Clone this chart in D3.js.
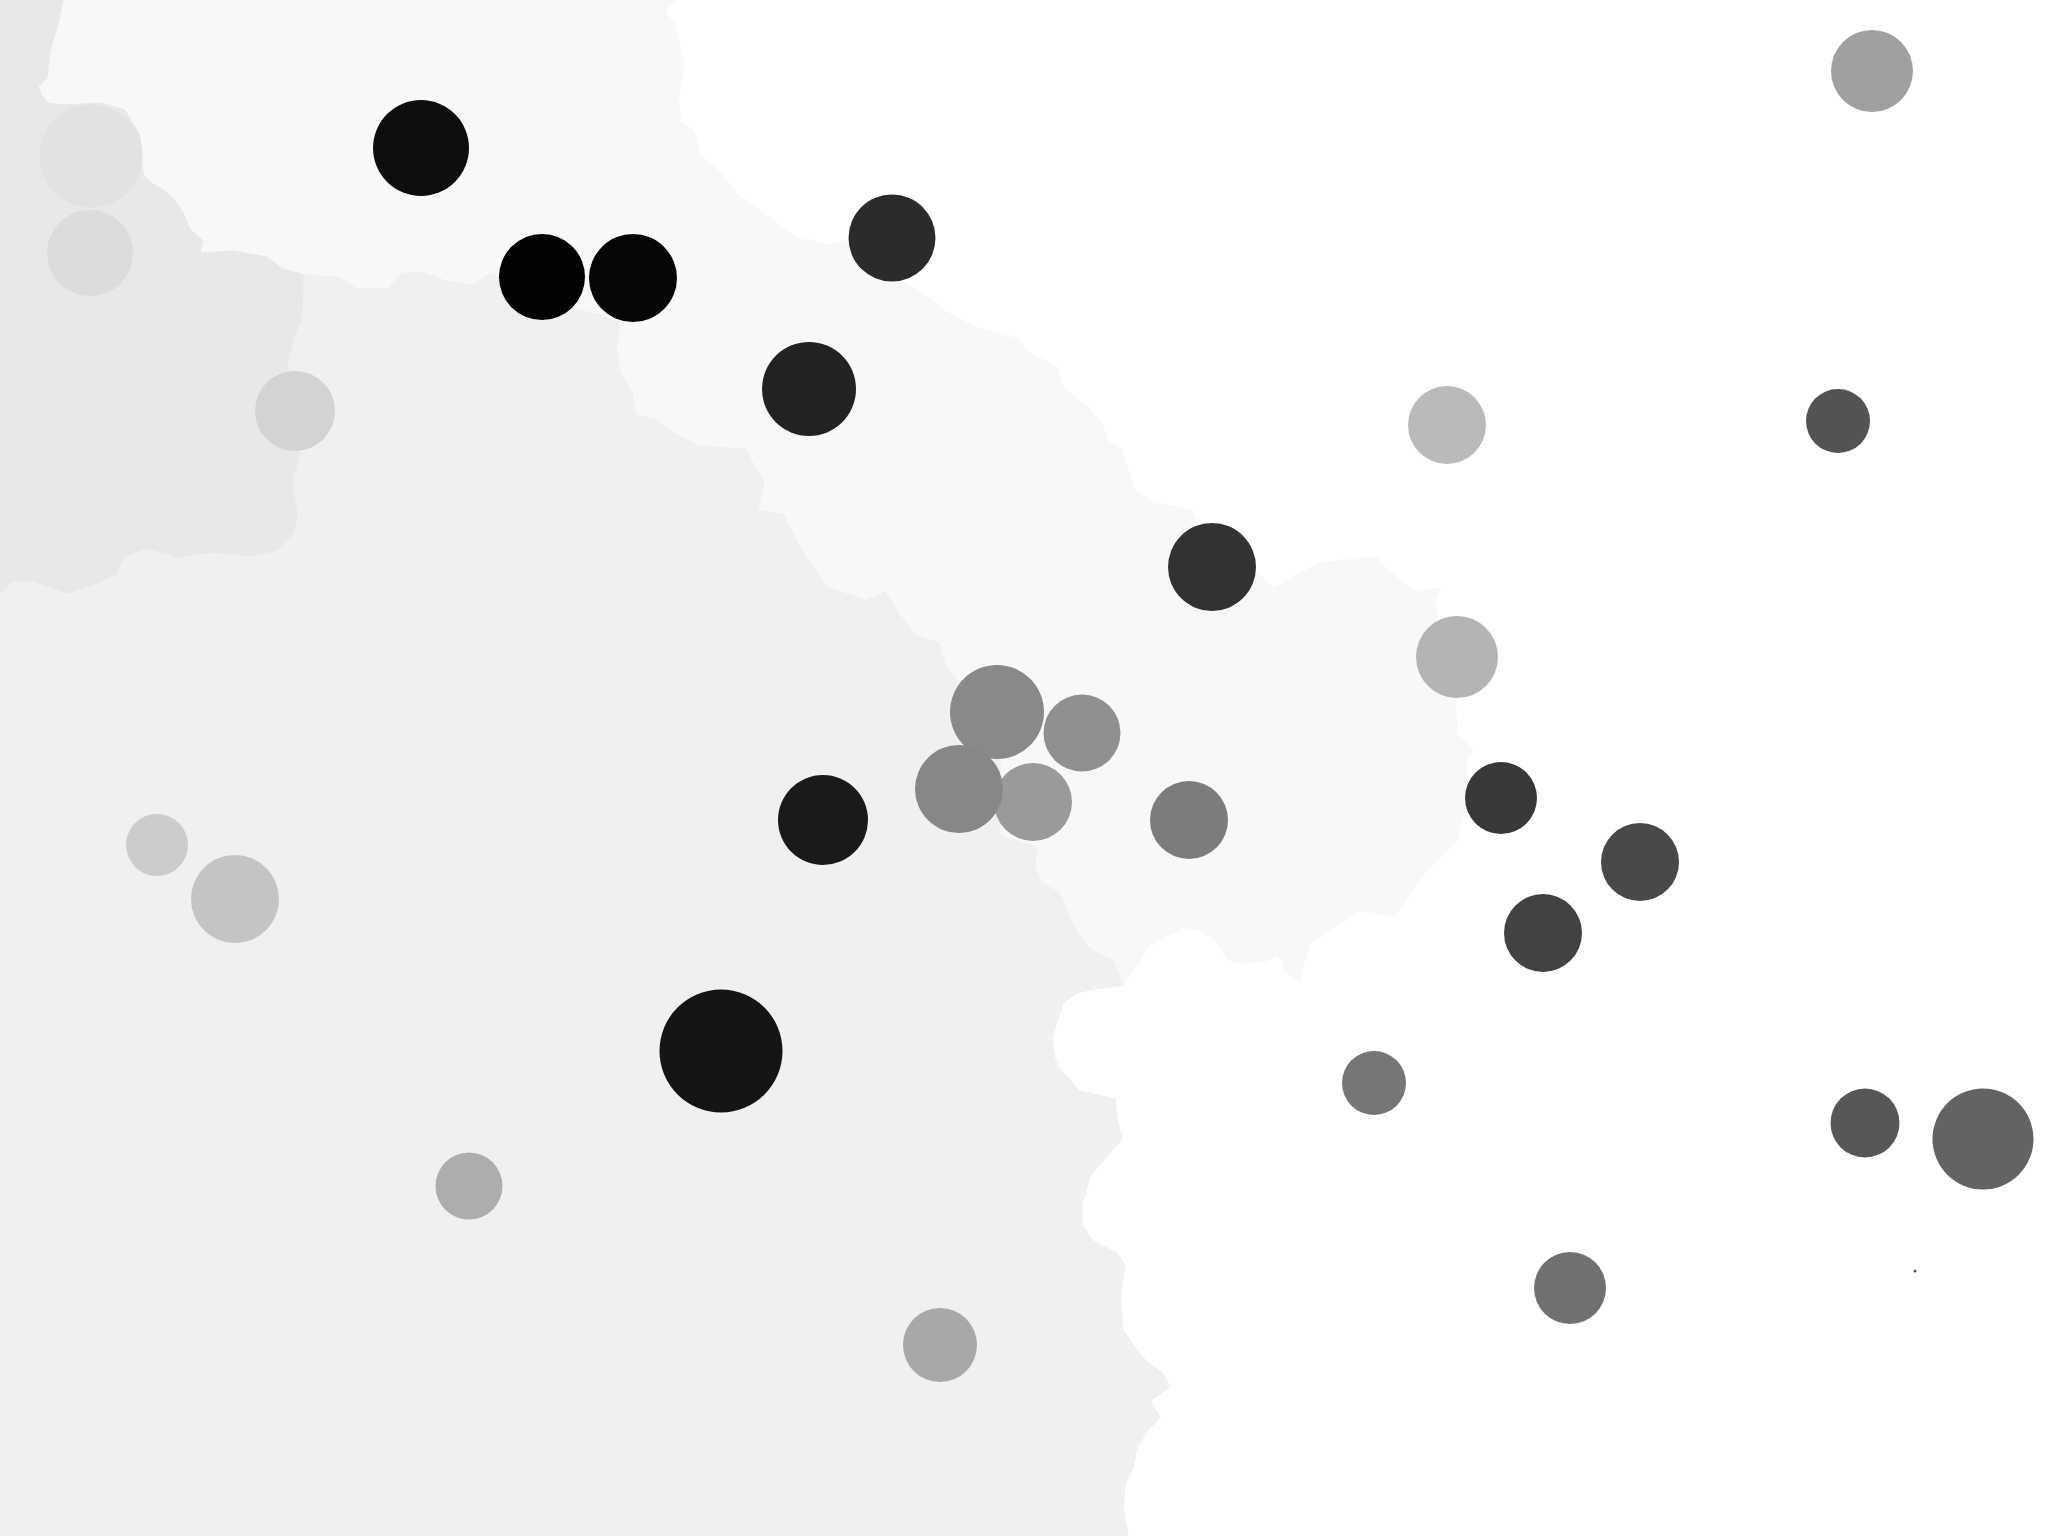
<!DOCTYPE html>
<html>
<head>
<meta charset="utf-8">
<script src="https://cdn.jsdelivr.net/npm/d3@7"></script>
<style>
  html, body { margin: 0; padding: 0; background: #ffffff; }
  svg { display: block; }
</style>
</head>
<body>
<script>
// ---------- DATA (reference pixel space, 2048 x 1536) ----------
// Circles
const circleX = [1872, 91, 90, 421, 542, 633, 892, 809, 295, 1447, 1838, 1212, 1457,
                 1033, 997, 1082, 959, 823, 1189, 1501, 1640, 1543, 157, 235, 721, 1374,
                 1865, 1983, 469, 1570, 940, 1915];
const circleY = [71, 156, 253, 148, 277, 278, 238, 389, 411, 425, 421, 567, 657,
                 802, 712, 733, 789, 820, 820, 798, 862, 933, 845, 899, 1051, 1083,
                 1123, 1139, 1186, 1288, 1345, 1271];
const circleR = [41, 51.5, 43, 48, 43, 44, 43.5, 47, 40, 39, 32, 44, 41,
                 39, 47, 38.5, 44, 45, 39, 36, 39, 39, 31, 44, 61.5, 32,
                 34.5, 50.5, 33.5, 36, 37, 1.5];
const circleFill = ["#a0a0a0", "#e2e2e2", "#dcdcdc", "#0e0e0e", "#020202", "#060606", "#2b2b2b",
                    "#222222", "#d3d3d3", "#bababa", "#535353", "#323232", "#b4b4b4",
                    "#9a9a9a", "#898989", "#909090", "#878787", "#1a1a1a", "#7c7c7c",
                    "#383838", "#484848", "#424242", "#cccccc", "#c4c4c4", "#151515",
                    "#767676", "#575757", "#636363", "#adadad", "#707070", "#a8a8a8", "#555555"];

// Region boundaries
const edgeBM = [[63,0],[58,24],[50,51],[47,78],[38,87],[42,96],[48,103],[63,105],[100,103],
                [125,110],[140,135],[143,174],[150,182],[163,190],[173,198],[183,213],[190,229],
                [203,241],[200,253],[233,251],[267,257],[283,269],[298,273],[303,275]];
const edgeBL = [[303,275],[303,289],[302,316],[293,340],[287,364],[300,411],[300,455],
                [292,480],[297,514],[293,534],[277,550],[253,556],[213,552],[177,557],
                [147,548],[123,557],[117,573],[93,585],[67,593],[33,581],[13,581],[0,593]];
const edgeML = [[303,275],[339,277],[357,289],[388,289],[402,273],[424,273],[446,281],
                [473,285],[491,273],[540,300],[600,315],[620,322],[616,350],[620,372],
                [632,392],[636,415],[656,420],[675,434],[700,446],[745,449],[764,482],
                [758,510],[783,514],[802,551],[828,588],[866,600],[885,592],[900,615],
                [915,635],[939,643],[946,667],[957,680],[985,700],[1000,760],[1000,835],
                [1020,842],[1037,847],[1035,867],[1042,883],[1060,893],[1069,917],
                [1078,933],[1091,950],[1113,960],[1123,985]];
const edgeMW = [[675,0],[665,12],[675,24],[684,65],[678,102],[681,122],[694,131],[700,155],
                [719,171],[739,196],[751,204],[796,237],[828,245],[850,240],[880,260],
                [904,282],[930,298],[943,310],[975,327],[1019,339],[1026,351],[1057,367],
                [1064,388],[1089,408],[1102,424],[1108,441],[1121,449],[1128,469],[1134,490],
                [1153,502],[1191,510],[1205,540],[1240,565],[1255,571],[1274,588],[1319,563],
                [1376,557],[1389,571],[1415,592],[1440,588],[1435,600],[1440,640],[1450,690],
                [1455,700],[1457,733],[1473,750],[1466,760],[1466,800],[1462,820],[1457,840],
                [1430,867],[1412,890],[1395,917],[1359,910],[1341,923],[1310,943],[1303,965],
                [1300,981],[1283,971],[1283,961],[1277,955],[1267,961],[1240,963],[1227,959],
                [1217,941],[1200,930],[1183,928],[1160,939],[1147,947],[1140,961],[1123,985]];
const edgeLW = [[1123,985],[1110,987],[1093,989],[1077,993],[1063,1003],[1052,1038],
                [1055,1060],[1060,1070],[1080,1091],[1115,1099],[1117,1119],[1122,1139],
                [1107,1156],[1090,1176],[1082,1204],[1082,1225],[1093,1241],[1117,1253],
                [1125,1265],[1120,1298],[1123,1330],[1137,1350],[1147,1362],[1163,1373],
                [1170,1387],[1150,1401],[1160,1417],[1147,1431],[1137,1448],[1133,1468],
                [1125,1484],[1123,1508],[1128,1536]];

const regionFill = { white: "#ffffff", M: "#f8f8f8", L: "#f0f0f0", B: "#e8e8e8" };

// ---------- DRAW ----------
const W = 2048, H = 1536;
const x = d3.scaleLinear().domain([0, 2048]).range([0, W]);
const y = d3.scaleLinear().domain([0, 1536]).range([0, H]);

const svg = d3.select("body").append("svg")
  .attr("width", W).attr("height", H)
  .attr("viewBox", `0 0 ${W} ${H}`);

svg.append("rect").attr("x", x(0)).attr("y", y(0))
  .attr("width", x(2048) - x(0)).attr("height", y(1536) - y(0))
  .attr("fill", regionFill.white);

const line = d3.line().x(d => x(d[0])).y(d => y(d[1])).curve(d3.curveLinearClosed);

const polyM = [[0,0], ...edgeMW, ...edgeLW.slice(1), [0,1536]];
const polyL = [[0,1536], ...edgeBL.slice().reverse(), ...edgeML.slice(1), ...edgeLW.slice(1)];
const polyB = [[0,0], ...edgeBM, ...edgeBL.slice(1)];

const regions = [
  { pts: polyM, fill: regionFill.M },
  { pts: polyL, fill: regionFill.L },
  { pts: polyB, fill: regionFill.B }
];

svg.append("g").selectAll("path").data(regions).join("path")
  .attr("d", d => line(d.pts))
  .attr("fill", d => d.fill)
  .attr("stroke", d => d.fill)
  .attr("stroke-width", 1);

const circles = circleX.map((cx, i) => ({ cx, cy: circleY[i], r: circleR[i], fill: circleFill[i] }));

svg.append("g").selectAll("circle").data(circles).join("circle")
  .attr("cx", d => x(d.cx))
  .attr("cy", d => y(d.cy))
  .attr("r", d => x(d.r) - x(0))
  .attr("fill", d => d.fill);
</script>
</body>
</html>
